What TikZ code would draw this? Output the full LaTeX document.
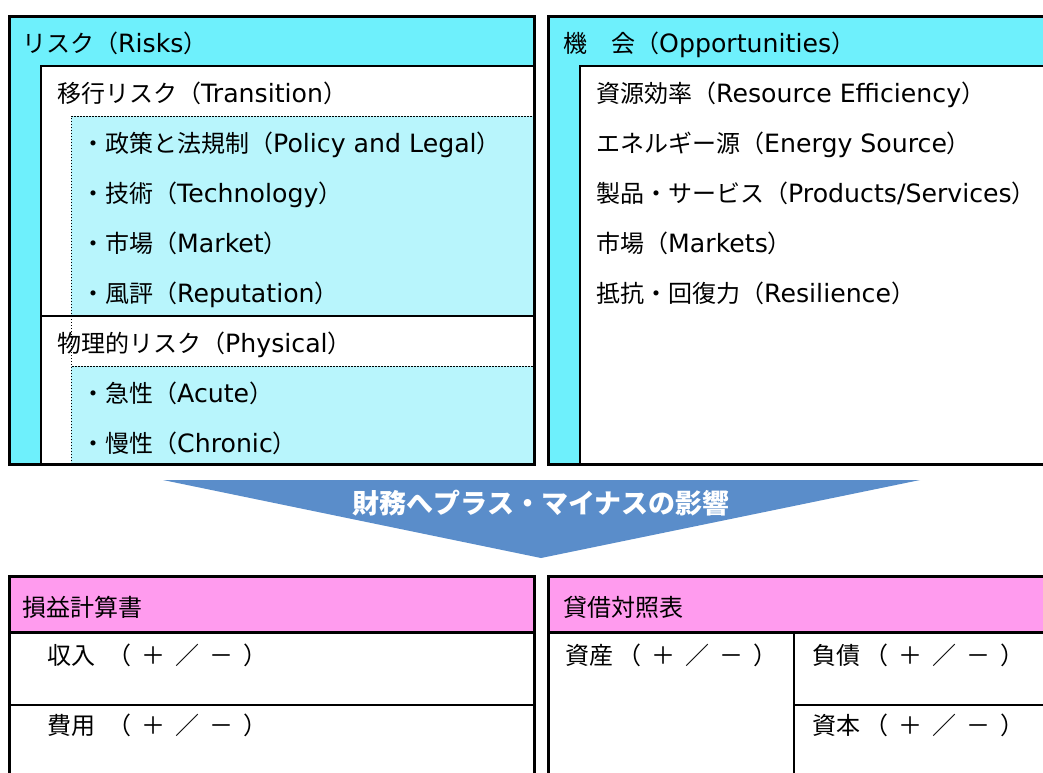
\documentclass[tikz,border=0pt]{standalone}
\usepackage{fontspec}
\setmainfont{Noto Sans CJK JP}
\newfontfamily\latfont[Scale=1.05]{DejaVu Sans}
\definecolor{cyanA}{HTML}{6EF0FC}
\definecolor{cyanB}{HTML}{B8F5FC}
\definecolor{pinkA}{HTML}{FF9BEE}
\definecolor{arrowblue}{HTML}{5A8DCA}
\newcommand\pmtext{（\hspace{10pt}＋\hspace{10pt}／\hspace{10pt}－\hspace{10pt}）}
\newcommand\lt[1]{{\latfont #1}}
\begin{document}
\begin{tikzpicture}[x=1pt,y=-1pt,
  txt/.style={anchor=base west,inner sep=0pt,font=\fontsize{24}{28}\selectfont},
  thickline/.style={line width=3pt},
  midline/.style={line width=2pt},
  dotline/.style={line width=0.8pt,dash pattern=on 1.5pt off 1.5pt},
  arrowtext/.style={inner sep=0pt,text=white,font=\fontsize{27}{30}\selectfont\bfseries}]
\useasboundingbox (0,0) rectangle (1043,772);
\clip (0,0) rectangle (1043,772);
\fill[white] (0,0) rectangle (1043,772);
% ---------- Risks box ----------
\fill[cyanA] (9,16) rectangle (534,464);
\fill[white] (41,66) rectangle (534,464);
\fill[cyanB] (71,116) rectangle (534,316);
\fill[cyanB] (71,366) rectangle (534,464);
\draw[dotline] (71,464) -- (71,116) -- (534,116);
\draw[dotline] (71,464) -- (71,366) -- (534,366);
\draw[midline] (41,464) -- (41,66) -- (534,66);
\draw[midline] (41,316) -- (534,316);
\draw[thickline] (9,16) rectangle (534,464);
% ---------- Opportunities box ----------
\fill[cyanA] (548,16) rectangle (1060,464);
\fill[white] (580,66) rectangle (1060,464);
\draw[midline] (580,464) -- (580,66) -- (1060,66);
\draw[thickline] (1060,16) -- (548,16) -- (548,464) -- (1060,464);
% ---------- arrow ----------
\fill[arrowblue] (163,480) -- (920,480) -- (541,558) -- cycle;
\node[arrowtext] (impact) at (541,503) {財務へプラス・マイナスの影響};
% ---------- P/L box ----------
\fill[pinkA] (9,576) rectangle (534,632);
\draw[midline] (9,705) -- (534,705);
\draw[thickline] (9,632) -- (534,632);
\draw[thickline] (9,790) -- (9,576) -- (534,576) -- (534,790);
% ---------- B/S box ----------
\fill[pinkA] (548,576) rectangle (1060,632);
\draw[midline] (794,632) -- (794,790);
\draw[midline] (794,705) -- (1060,705);
\draw[thickline] (548,632) -- (1060,632);
\draw[thickline] (548,790) -- (548,576) -- (1060,576);
% ---------- texts ----------
\node[txt] (risks) at (22,52) {リスク（\lt{Risks}）};
\node[txt] (transition) at (57,102) {移行リスク（\lt{Transition}）};
\node[txt] (policy) at (81,152) {・政策と法規制（\lt{Policy and Legal}）};
\node[txt] (tech) at (81,202) {・技術（\lt{Technology}）};
\node[txt] (market) at (81,252) {・市場（\lt{Market}）};
\node[txt] (reputation) at (81,302) {・風評（\lt{Reputation}）};
\node[txt] (physical) at (57,352) {物理的リスク（\lt{Physical}）};
\node[txt] (acute) at (81,402) {・急性（\lt{Acute}）};
\node[txt] (chronic) at (81,452) {・慢性（\lt{Chronic}）};
\node[txt] (opps) at (563,52) {機　会（\lt{Opportunities}）};
\node[txt] (resource) at (596,102) {資源効率（\lt{Resource Efficiency}）};
\node[txt] (energy) at (596,152) {エネルギー源（\lt{Energy Source}）};
\node[txt] (products) at (596,202) {製品・サービス（\lt{Products/Services}）};
\node[txt] (markets) at (596,252) {市場（\lt{Markets}）};
\node[txt] (resilience) at (596,302) {抵抗・回復力（\lt{Resilience}）};
\node[txt] (pl) at (22,616) {損益計算書};
\node[txt] (bs) at (563,616) {貸借対照表};
\node[txt] (revenue) at (47,664) {収入\hspace{12pt}\pmtext};
\node[txt] (expense) at (47,734) {費用\hspace{12pt}\pmtext};
\node[txt] (assets) at (565,664) {資産\hspace{4pt}\pmtext};
\node[txt] (liab) at (812,664) {負債\hspace{4pt}\pmtext};
\node[txt] (equity) at (812,734) {資本\hspace{4pt}\pmtext};
\end{tikzpicture}
\end{document}
